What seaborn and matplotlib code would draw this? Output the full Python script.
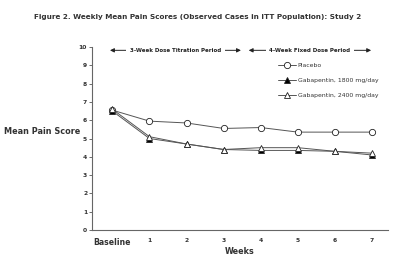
import numpy as np
import pandas as pd
import seaborn as sns
import matplotlib.pyplot as plt

sns.set_theme(style="white")
plt.rcParams["font.family"] = ["DejaVu Sans"]

# data
tick_labels = ["Baseline", "1", "2", "3", "4", "5", "6", "7"]
weeks = [0, 1, 2, 3, 4, 5, 6, 7]
placebo = [6.55, 5.95, 5.85, 5.55, 5.6, 5.35, 5.35, 5.35]
gaba_1800 = [6.5, 5.0, 4.7, 4.4, 4.35, 4.35, 4.3, 4.1]
gaba_2400 = [6.6, 5.1, 4.7, 4.4, 4.5, 4.5, 4.3, 4.2]
series_names = ["Placebo", "Gabapentin, 1800 mg/day", "Gabapentin, 2400 mg/day"]

df = pd.DataFrame({
    "week": weeks * 3,
    "score": placebo + gaba_1800 + gaba_2400,
    "group": np.repeat(series_names, len(weeks)),
})

fig = plt.figure(figsize=(4.0, 2.57), dpi=100)
ax = fig.add_axes([0.23, 0.105, 0.74, 0.712])

styles = {
    "Placebo": dict(marker="o", mfc="white"),
    "Gabapentin, 1800 mg/day": dict(marker="^", mfc="black"),
    "Gabapentin, 2400 mg/day": dict(marker="^", mfc="white"),
}
for name in series_names:
    sub = df[df["group"] == name]
    sns.lineplot(data=sub, x="week", y="score", ax=ax, color="#555555",
                 linewidth=0.7, marker=styles[name]["marker"], markersize=4.5,
                 markerfacecolor=styles[name]["mfc"], markeredgecolor="#222222",
                 markeredgewidth=0.6, label=name)

ax.set_xlim(-0.55, 7.43)
ax.set_ylim(0, 10)
ax.set_yticks(range(0, 11))
ax.set_yticklabels([str(i) for i in range(0, 11)], fontsize=4.3, fontweight="bold", color="#333333")
ax.set_xticks(weeks)
ax.set_xticklabels(tick_labels, fontweight="bold", color="#333333")
for i, lab in enumerate(ax.get_xticklabels()):
    lab.set_fontsize(5.6 if i == 0 else 4.3)
ax.tick_params(axis="y", length=2, width=0.6, color="#555555", pad=1.5, left=True)
ax.tick_params(axis="x", length=0, pad=6)

for s in ["top", "right"]:
    ax.spines[s].set_visible(False)
for s in ["left", "bottom"]:
    ax.spines[s].set_color("#666666")
    ax.spines[s].set_linewidth(0.8)

ax.set_xlabel("Weeks", fontsize=5.8, fontweight="bold", color="#333333", labelpad=0)
ax.set_ylabel("Mean Pain Score", fontsize=5.9, fontweight="bold", color="#333333",
              rotation=0, ha="center", va="center")
ax.yaxis.set_label_coords(-0.17, 0.54)

# period arrows
arrow_kw = dict(arrowstyle="-|>", color="#222222", lw=0.7, mutation_scale=6)
for (x0, x1, txt) in [(-0.14, 3.54, "3-Week Dose Titration Period"),
                      (3.6, 7.05, "4-Week Fixed Dose Period")]:
    xm = (x0 + x1) / 2
    ax.annotate("", xy=(x0, 9.82), xytext=(xm, 9.82), arrowprops=arrow_kw)
    ax.annotate("", xy=(x1, 9.82), xytext=(xm, 9.82), arrowprops=arrow_kw)
    ax.text(xm, 9.82, txt, ha="center", va="center", fontsize=4, fontweight="bold",
            color="#222222", bbox=dict(facecolor="white", edgecolor="none", pad=2.5))

leg = ax.legend(loc="upper left", bbox_to_anchor=(0.62, 0.925), frameon=False,
                fontsize=4.4, handlelength=2.9, handletextpad=0.3, labelspacing=1.55,
                borderaxespad=0)
for t in leg.get_texts():
    t.set_color("#333333")

fig.text(0.493, 0.935, "Figure 2. Weekly Mean Pain Scores (Observed Cases in ITT Population): Study 2",
         ha="center", va="center", fontsize=5.2, fontweight="bold", color="#333333")

fig.savefig("out.png", dpi=100)
